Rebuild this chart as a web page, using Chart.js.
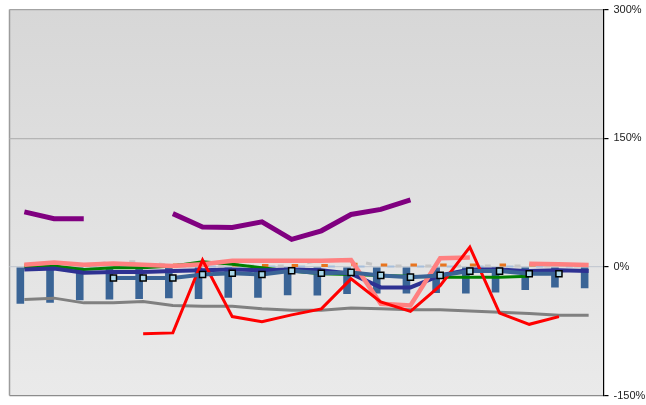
<!DOCTYPE html>
<html>
<head>
<meta charset="utf-8">
<script src="https://cdn.jsdelivr.net/npm/chart.js@4.4.1/dist/chart.umd.min.js"></script>
<style>
html, body { margin: 0; padding: 0; background: #fff; }
</style>
</head>
<body>
<canvas id="chart" width="646" height="405"></canvas>
<script>
// categories (no labels shown on the chart)
var categories = ['1','2','3','4','5','6','7','8','9','10','11','12','13','14','15','16','17','18','19','20'];
var yTicks = [-150, 0, 150, 300];

// series values, in %
var barValues    = [-43, -42, -39, -38, -37.5, -36.7, -37.5, -36, -36, -33, -33.5, -31.7, -31, -31, -30.5, -31, -30, -27, -24, -25];
var barSpacer    = [null, null, null, null, null, null, null, null, null, null, null, null, null, null, null, null, null, null, null, null];
var markerLine   = [null, null, null, -13, -13, -13, -9, -7.5, -9, -4.5, -7.5, -6.5, -10, -12, -10, -5, -5, -8, -8, null];
var redLine      = [null, null, null, null, -78, -77, 8, -58, -64, -56, -49, -14, -41, -52, -22, 23, -54, -67, -58, null];
var pinkLine     = [2.5, 5, 2.5, 4, 2.5, 1, 3, 7, 7, 7, 7, 8, -43, -45, 10, 11, null, 3.5, 3, 2];
var purpleLine   = [64, 56, 56, null, null, 62, 46.5, 46, 52.5, 32, 42, 61, 67, 78, null, null, null, null, null, null];
var navyLine     = [-3, -2, -7, -6, -6, -5, -4, -3, -4, -3, -4, -8, -24, -24, -10, -3, -3, -5, -4, -5];
var greenLine    = [-1, 1, -3, -1, -1, 1, 6, 3, -1, -5, -8, -9, -10, -11, -12, -12, -12, -11, null, null];
var grayLine     = [-38, -36.5, -42, -42, -40.5, -45, -46, -46, -49, -50.5, -50.5, -48, -49, -50, -50, -51.5, -53, -54.5, -56.5, -56.5];
var orangeDash   = [2, 2, 2, 2, 2, 2, 2, 2, 1.5, 1.5, 1.5, 3, 2, 2, 2, 2, 2, 2, null, null];
var silverLine   = [1, 1, 1, 6, 6, 1, 1, 1, 1, 1, 8, 8, 1, 1, 1, 1, 1, 1, 1, 1];
var skyLine      = [0.5, 0.5, 0.5, 0.5, 0.5, 0.5, 0.5, 0.5, 0.5, 0.5, 0.5, 0.5, 0.5, 0.5, 0.5, 0.5, 0.5, 0.5, 0.5, 0.5];

var plotBg = {
    id: 'plotBg',
    beforeDraw: function(chart) {
        var a = chart.chartArea, c = chart.ctx;
        var g = c.createLinearGradient(0, a.top, 0, a.bottom);
        g.addColorStop(0, '#d7d7d7');
        g.addColorStop(1, '#eaeaea');
        c.save();
        c.fillStyle = g;
        c.fillRect(a.left, a.top, a.right - a.left, a.bottom - a.top);
        c.strokeStyle = '#9c9c9c';
        c.lineWidth = 1.5;
        c.beginPath();
        c.moveTo(a.left, a.top);
        c.lineTo(a.left, a.bottom);
        c.stroke();
        c.restore();
    }
};

function line(data, color, width, extra) {
    var ds = {
        type: 'line',
        data: data,
        borderColor: color,
        backgroundColor: color,
        borderWidth: width,
        pointRadius: 0,
        tension: 0,
        fill: false
    };
    for (var k in extra) ds[k] = extra[k];
    return ds;
}

var ctx = document.getElementById('chart').getContext('2d');
new Chart(ctx, {
    data: {
        labels: categories,
        datasets: [
            line(markerLine, '#3a6496', 4, {
                pointRadius: 4.3, pointStyle: 'rect',
                pointBackgroundColor: '#a9d6e8', pointBorderColor: '#000', pointBorderWidth: 1.5
            }),
            line(redLine, '#ff0000', 3),
            line(pinkLine, '#ff8080', 4.5),
            line(purpleLine, '#800080', 5),
            line(navyLine, '#2e3192', 4),
            line(greenLine, '#008000', 3),
            line(grayLine, '#808080', 3),
            line(orangeDash, '#e8741e', 3, {
                showLine: false, pointStyle: 'dash', pointRadius: 6.5,
                pointBorderColor: '#e8741e', pointBorderWidth: 3
            }),
            line(silverLine, '#c6c6c6', 3, { borderDash: [6, 23.75], borderDashOffset: 13.75 }),
            line(skyLine, '#a7bfdc', 2, { borderDash: [7, 22.75], borderDashOffset: 23.75 }),
            {
                type: 'bar',
                data: barValues,
                backgroundColor: '#3a6496',
                categoryPercentage: 0.54,
                barPercentage: 0.95
            },
            {
                type: 'bar',
                data: barSpacer,
                backgroundColor: 'rgba(0,0,0,0)',
                categoryPercentage: 0.54,
                barPercentage: 0.95
            }
        ]
    },
    options: {
        responsive: false,
        animation: false,
        layout: { padding: { left: 8, top: 9, bottom: 7, right: 0 } },
        plugins: { legend: { display: false }, tooltip: { enabled: false } },
        scales: {
            x: { type: 'category', offset: true, display: false },
            y: {
                position: 'right',
                min: -150,
                max: 300,
                afterBuildTicks: function(scale) {
                    scale.ticks = yTicks.map(function(v) { return { value: v }; });
                },
                afterFit: function(scale) {
                    scale.width = 42.5;
                    scale.paddingTop = 0;
                    scale.paddingBottom = 0;
                },
                ticks: {
                    padding: 5,
                    color: '#222',
                    font: { family: 'Liberation Sans, Arial, sans-serif', size: 11 },
                    callback: function(v) { return v + '%'; }
                },
                grid: {
                    tickLength: 5,
                    tickColor: '#000',
                    lineWidth: 1.2,
                    color: function(c) {
                        var v = c.tick ? c.tick.value : 0;
                        if (v === 300) return '#a3a3a3';
                        if (v === 150) return '#b5b5b5';
                        if (v === 0) return '#c5cad2';
                        return '#8c8c8c';
                    }
                },
                border: { display: true, color: '#000', width: 1.2 }
            }
        }
    },
    plugins: [plotBg]
});
</script>
</body>
</html>
